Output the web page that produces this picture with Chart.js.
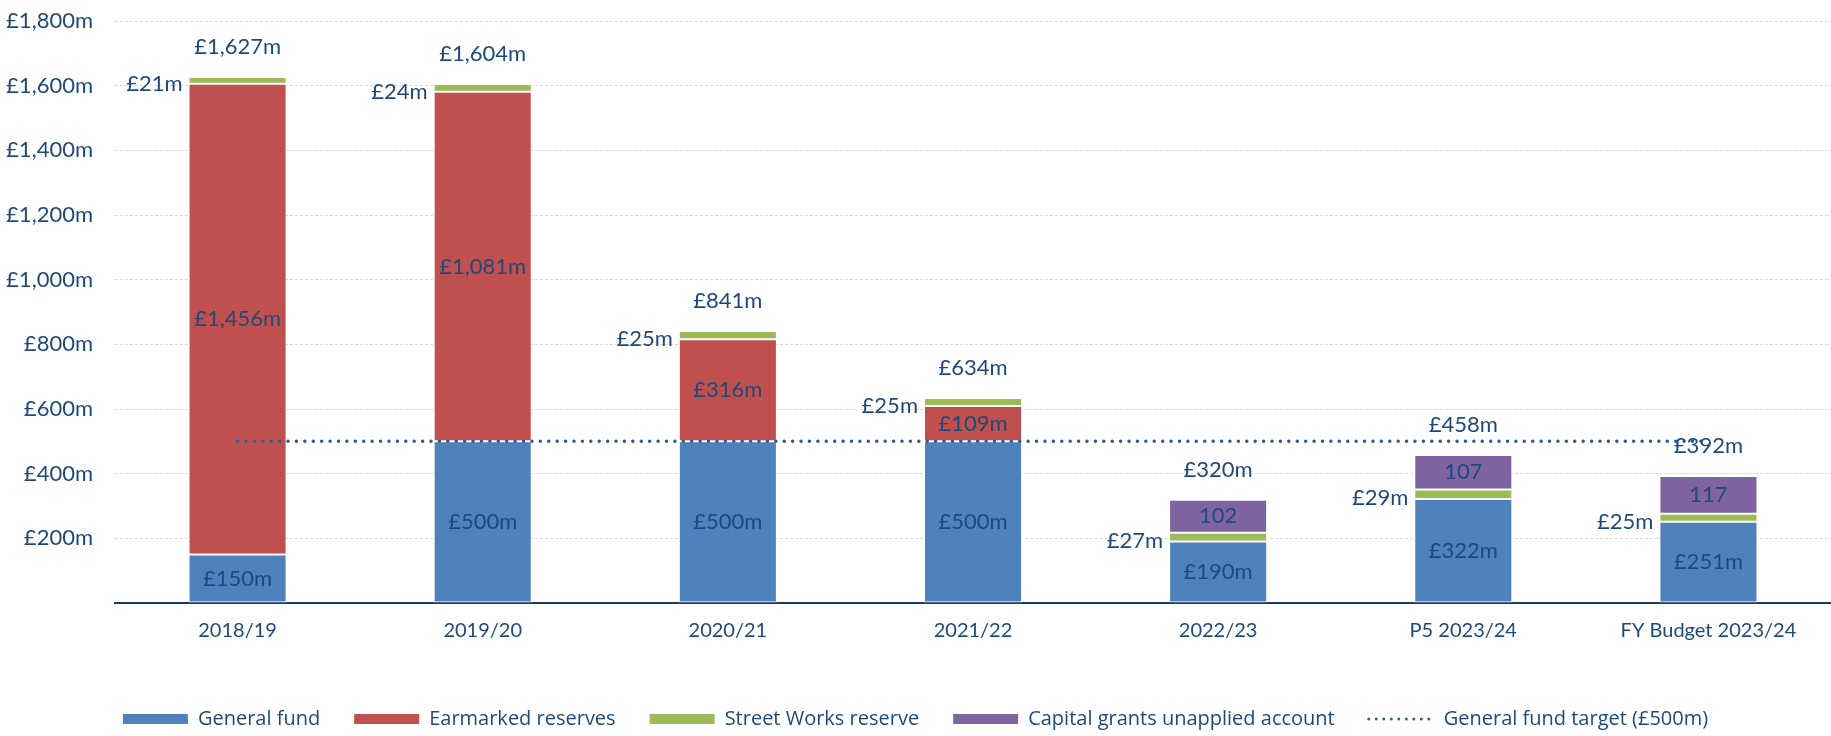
<!DOCTYPE html>
<html>
<head>
<meta charset="utf-8">
<title>Reserves</title>
<script src="https://cdn.jsdelivr.net/npm/chart.js@4.4.0/dist/chart.umd.min.js"></script>
<style>
  html, body { margin: 0; padding: 0; background: #fff; }
  #wrap { width: 1831px; height: 736px; position: relative; }
</style>
</head>
<body>
<div id="wrap"><canvas id="reservesChart"></canvas></div>
<script>
const years = ["2018/19", "2019/20", "2020/21", "2021/22", "2022/23", "P5 2023/24", "FY Budget 2023/24"];
const generalFund = [150, 500, 500, 500, 190, 322, 251];
const earmarked = [1456, 1081, 316, 109, 0, 0, 0];
const streetWorks = [21, 24, 25, 25, 27, 29, 25];
const capitalGrants = [0, 0, 0, 0, 102, 107, 117];
const totals = [1627, 1604, 841, 634, 320, 458, 392];
const target = [500, 500, 500, 500, 500, 500, 500];
const yMax = 1800;
const yStep = 200;

const navy = '#1F497D';
const targetColour = '#2F5B93';
const money = v => '£' + v.toLocaleString('en-GB') + 'm';

// labels on and around the bars
const barLabels = {
  id: 'barLabels',
  afterDatasetsDraw(chart) {
    const ctx = chart.ctx;
    const y = chart.scales.y;
    ctx.save();
    ctx.font = '22px Lato';
    ctx.fillStyle = navy;
    ctx.textBaseline = 'middle';
    chart.data.datasets.forEach((ds, di) => {
      if (ds.type === 'line') return;
      chart.getDatasetMeta(di).data.forEach((bar, i) => {
        const v = ds.data[i];
        if (!v) return;
        const mid = (bar.y + bar.base) / 2;
        if (di === 2) {
          ctx.textAlign = 'right';
          ctx.fillText(money(v), bar.x - bar.width / 2 - 6, mid + 4);
        } else if (di === 3) {
          ctx.textAlign = 'center';
          ctx.fillText(String(v), bar.x, mid);
        } else {
          ctx.textAlign = 'center';
          ctx.fillText(money(v), bar.x, mid);
        }
      });
    });
    ctx.textAlign = 'center';
    chart.getDatasetMeta(0).data.forEach((bar, i) => {
      const top = generalFund[i] + earmarked[i] + streetWorks[i] + capitalGrants[i];
      ctx.fillText(money(totals[i]), bar.x, y.getPixelForValue(top) - 30);
    });
    ctx.restore();
  }
};

// nudge the legend row down a little
const legendShift = {
  id: 'legendShift',
  afterLayout(chart) {
    const l = chart.legend;
    if (!l) return;
    l.top += 3;
    l.bottom += 3;
  }
};

new Chart(document.getElementById('reservesChart'), {
  type: 'bar',
  data: {
    labels: years,
    datasets: [
      { label: 'General fund', data: generalFund, backgroundColor: '#4F81BD' },
      { label: 'Earmarked reserves', data: earmarked, backgroundColor: '#C0504D' },
      { label: 'Street Works reserve', data: streetWorks, backgroundColor: '#9BBB59' },
      { label: 'Capital grants unapplied account', data: capitalGrants, backgroundColor: '#8064A2' },
      {
        type: 'line',
        label: 'General fund target (£500m)',
        data: target,
        stack: 'target',
        order: 0,
        borderColor: targetColour,
        borderWidth: 3.5,
        borderDash: [0.01, 8.4],
        borderCapStyle: 'round',
        pointRadius: 0,
        pointHoverRadius: 0,
        fill: false
      }
    ].map(ds => ds.type ? ds : Object.assign(ds, {
      order: 1,
      stack: 'reserves',
      borderColor: '#ffffff',
      borderWidth: 1,
      borderSkipped: false,
      barPercentage: 0.4,
      categoryPercentage: 1
    }))
  },
  options: {
    responsive: true,
    maintainAspectRatio: false,
    animation: false,
    layout: { padding: { top: 21, right: 0, left: 0, bottom: 0 } },
    plugins: {
      tooltip: { enabled: false },
      legend: {
        position: 'bottom',
        labels: {
          usePointStyle: true,
          pointStyleWidth: 65,
          boxHeight: 10,
          padding: 34,
          color: navy,
          font: { family: 'Open Sans', size: 20 },
          sort: (a, b) => a.datasetIndex - b.datasetIndex,
          generateLabels(chart) {
            const items = Chart.defaults.plugins.legend.labels.generateLabels(chart);
            items.forEach(it => {
              const ds = chart.data.datasets[it.datasetIndex];
              if (ds.type === 'line') {
                it.pointStyle = 'line';
                it.lineWidth = 3;
                it.lineDash = [0.01, 7.5];
                it.lineCap = 'round';
                it.strokeStyle = targetColour;
                it.fillStyle = 'rgba(0,0,0,0)';
              } else {
                it.pointStyle = 'rect';
                it.lineWidth = 0;
                it.fillStyle = ds.backgroundColor;
              }
            });
            return items;
          }
        }
      }
    },
    scales: {
      x: {
        stacked: true,
        grid: { display: false, drawTicks: false },
        border: { display: true, color: '#1F3864', width: 2 },
        ticks: { color: navy, font: { family: 'Lato', size: 20 }, padding: 16 },
        afterFit: s => { s.height = 69; }
      },
      y: {
        stacked: true,
        min: 0,
        max: yMax,
        grid: { color: '#D9D9D9', drawTicks: false },
        border: { display: false, dash: [3, 2] },
        ticks: {
          stepSize: yStep,
          padding: 22,
          color: navy,
          font: { family: 'Lato', size: 22 },
          callback: v => v === 0 ? '' : money(v)
        },
        afterFit: s => {
          s.width = 115;
          s.paddingTop = 0;
          s.paddingBottom = 0;
        }
      }
    }
  },
  plugins: [barLabels, legendShift]
});
</script>
</body>
</html>
